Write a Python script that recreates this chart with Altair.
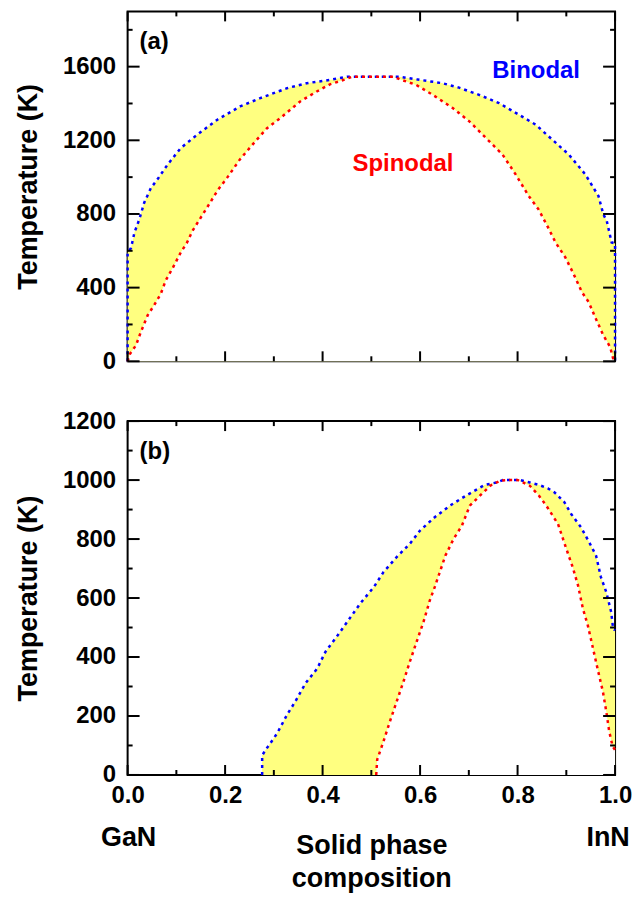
import altair as alt
import pandas as pd

# ---------------- Panel (a) data ----------------
bin_a_x = [0.0, 0.0, 0.007, 0.014, 0.024, 0.034, 0.048, 0.061, 0.082, 0.109, 0.143, 0.184,
           0.231, 0.272, 0.327, 0.367, 0.415, 0.450, 0.500, 0.557, 0.595, 0.646, 0.680,
           0.721, 0.762, 0.803, 0.837, 0.871, 0.905, 0.939, 0.966, 0.976, 0.983, 0.993,
           1.0, 1.0]
bin_a_T = [0, 590, 615, 699, 771, 861, 942, 987, 1068, 1158, 1231, 1312,
           1384, 1429, 1483, 1510, 1528, 1545, 1545, 1545, 1530, 1510, 1486,
           1447, 1402, 1339, 1285, 1204, 1123, 1015, 897, 798, 762, 645,
           640, 0]

spi_a_x = [0.0, 0.005, 0.017, 0.027, 0.041, 0.054, 0.068, 0.078, 0.095, 0.109, 0.122,
           0.133, 0.150, 0.167, 0.185, 0.204, 0.230, 0.259, 0.286, 0.313, 0.354, 0.388,
           0.415, 0.449, 0.460, 0.500, 0.545, 0.560, 0.592, 0.626, 0.667, 0.701, 0.735,
           0.769, 0.796, 0.823, 0.843, 0.861, 0.878, 0.898, 0.915, 0.932, 0.946, 0.959,
           0.976, 0.990, 0.997, 1.0]
spi_a_T = [0, 41, 86, 158, 249, 303, 366, 438, 519, 591, 645,
           708, 780, 852, 930, 996, 1095, 1185, 1266, 1320, 1411, 1465,
           1504, 1533, 1545, 1545, 1545, 1530, 1501, 1447, 1375, 1303, 1213,
           1123, 1015, 897, 825, 735, 645, 564, 474, 375, 321, 240,
           141, 77, 5, 0]

# ---------------- Panel (b) data ----------------
bin_b_x = [0.276, 0.276, 0.283, 0.293, 0.307, 0.327, 0.344, 0.365, 0.389, 0.406, 0.429,
           0.453, 0.477, 0.505, 0.525, 0.552, 0.579, 0.600, 0.630, 0.661, 0.694, 0.732,
           0.757, 0.770, 0.805, 0.825, 0.845, 0.862, 0.876, 0.896, 0.910, 0.930, 0.947,
           0.961, 0.971, 0.982, 0.992, 0.996, 1.0]
bin_b_T = [0, 66, 85, 108, 142, 204, 249, 311, 361, 418, 469,
           525, 581, 637, 688, 739, 784, 829, 874, 913, 947, 983,
           992, 1000, 1000, 992, 983, 972, 958, 925, 885, 840, 789,
           744, 671, 620, 553, 497, 490]

spi_b_x = [0.510, 0.512, 0.525, 0.538, 0.552, 0.566, 0.579, 0.593, 0.607, 0.620, 0.630,
           0.652, 0.669, 0.686, 0.702, 0.719, 0.744, 0.765, 0.780, 0.800, 0.811, 0.825,
           0.844, 0.859, 0.883, 0.900, 0.913, 0.924, 0.934, 0.944, 0.954, 0.964, 0.975,
           0.982, 0.988, 0.995, 1.0]
spi_b_T = [0, 52, 114, 181, 249, 317, 384, 452, 519, 592, 637,
           744, 801, 846, 913, 941, 981, 998, 1000, 1000, 992, 981,
           947, 913, 851, 767, 705, 643, 564, 508, 435, 361, 283,
           215, 148, 97, 85]

# ---------------- axes / labels ----------------
x_major = [0.0, 0.2, 0.4, 0.6, 0.8, 1.0]
x_minor = [0.1, 0.3, 0.5, 0.7, 0.9]
ya_major = [0, 400, 800, 1200, 1600]
ya_minor = [200, 600, 1000, 1400, 1800]
yb_major = [0, 200, 400, 600, 800, 1000, 1200]
yb_minor = [100, 300, 500, 700, 900, 1100]
ya_domain = [0, 1900]
yb_domain = [0, 1200]

annot_text = ["Binodal", "Spinodal"]
annot_x = [0.838, 0.565]
annot_T = [1540, 1035]
annot_color = ["#0000ff", "#ff0000"]

end_names = ["GaN", "InN"]
end_x = [0.0, 1.0]

panel_tags = ["(a)", "(b)"]

FONT = "Liberation Sans, Arial, sans-serif"
W = 489
HA = 351
HB = 355
BLUE = "#0000ff"
RED = "#ff0000"
YELLOW = "#ffff80"


def curve_df(xs, ts):
    return pd.DataFrame({"x": xs, "T": ts, "i": list(range(len(xs)))})


def panel(bx, bt, sx, st, ydom, ymaj, ymin, H, tag, bottom):
    xsc = alt.Scale(domain=[0, 1], nice=False, zero=False)
    ysc = alt.Scale(domain=ydom, nice=False, zero=False)
    if bottom:
        xaxis = alt.Axis(values=x_major, format=".1f", title=["Solid phase", "composition"],
                         ticks=False, tickSize=0, domain=False, grid=False,
                         labelFlush=False, labelPadding=9, titlePadding=25,
                         titleLineHeight=33)
    else:
        xaxis = None
    yaxis = alt.Axis(values=ymaj, format="d", title="Temperature (K)", ticks=False,
                     tickSize=0, domain=False, grid=False, labelPadding=12,
                     titlePadding=20)
    X = alt.X("x:Q", scale=xsc, axis=xaxis)
    Y = alt.Y("T:Q", scale=ysc, axis=yaxis, stack=None)

    bdf = curve_df(bx, bt)
    sdf = curve_df(sx, st)

    fill_b = alt.Chart(bdf).mark_area(color=YELLOW, opacity=1).encode(x=X, y=Y)
    fill_s = alt.Chart(sdf).mark_area(color="white", opacity=1).encode(x=X, y=Y)
    line_b = alt.Chart(bdf).mark_line(color=BLUE, strokeWidth=2.5, strokeDash=[3, 4]).encode(
        x=X, y=Y, order="i:Q")
    line_s = alt.Chart(sdf).mark_line(color=RED, strokeWidth=2.5, strokeDash=[3, 4]).encode(
        x=X, y=Y, order="i:Q")

    layers = [fill_b, fill_s, line_b, line_s]

    # inward ticks
    for vals, L in ((ymaj, 12), (ymin, 5)):
        d = pd.DataFrame({"T": vals})
        layers.append(alt.Chart(d).mark_rule(color="black", strokeWidth=2).encode(
            y=Y, x=alt.value(0), x2=alt.value(L)))
        layers.append(alt.Chart(d).mark_rule(color="black", strokeWidth=2).encode(
            y=Y, x=alt.value(W), x2=alt.value(W - L)))
    for vals, L in ((x_major, 10), (x_minor, 5)):
        d = pd.DataFrame({"x": vals})
        layers.append(alt.Chart(d).mark_rule(color="black", strokeWidth=2).encode(
            x=X, y=alt.value(H), y2=alt.value(H - L)))
        layers.append(alt.Chart(d).mark_rule(color="black", strokeWidth=2).encode(
            x=X, y=alt.value(0), y2=alt.value(L)))

    tag_df = pd.DataFrame({"tag": [tag]})
    layers.append(alt.Chart(tag_df).mark_text(
        align="left", baseline="alphabetic", font=FONT, fontSize=24, fontWeight="bold",
        color="black").encode(x=alt.value(12), y=alt.value(38), text="tag:N"))

    if not bottom:
        adf = pd.DataFrame({"x": annot_x, "T": annot_T, "txt": annot_text, "c": annot_color})
        layers.append(alt.Chart(adf).mark_text(
            align="center", baseline="alphabetic", font=FONT, fontSize=24,
            fontWeight="bold").encode(x=X, y=Y, text="txt:N",
                                      color=alt.Color("c:N", scale=None)))
    else:
        edf = pd.DataFrame({"x": end_x, "name": end_names})
        for nm, dx in ((end_names[0], 1), (end_names[1], -7)):
            layers.append(alt.Chart(edf).transform_filter(
                alt.datum.name == nm).mark_text(
                align="center", baseline="alphabetic", font=FONT, fontSize=27,
                fontWeight="bold", color="black", dx=dx).encode(
                x=X, y=alt.value(H + 71), text="name:N"))

    return alt.layer(*layers).properties(width=W, height=H)


pa = panel(bin_a_x, bin_a_T, spi_a_x, spi_a_T, ya_domain, ya_major, ya_minor, HA,
           panel_tags[0], False)
pb = panel(bin_b_x, bin_b_T, spi_b_x, spi_b_T, yb_domain, yb_major, yb_minor, HB,
           panel_tags[1], True)

chart = alt.vconcat(pa, pb, spacing=34).properties(
    padding={"left": 5, "top": 0, "right": 0, "bottom": 0}
).configure_view(
    stroke="black", strokeWidth=2
).configure_axis(
    labelFont=FONT, labelFontSize=24, labelFontWeight="bold", labelColor="black",
    titleFont=FONT, titleFontSize=27, titleFontWeight="bold", titleColor="black"
)

chart.save("out.html", embed_options={"renderer": "svg", "actions": False})
